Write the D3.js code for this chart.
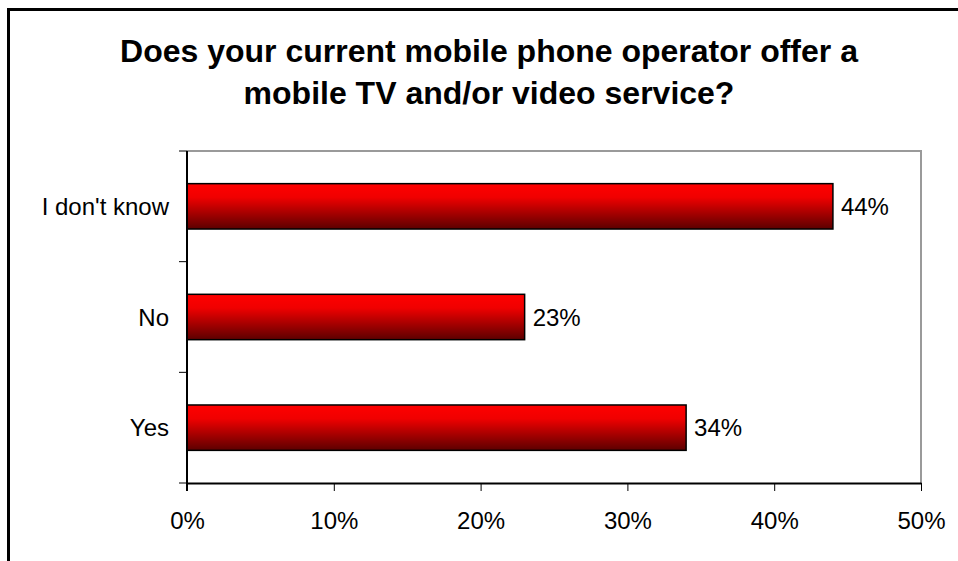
<!DOCTYPE html>
<html>
<head>
<meta charset="utf-8">
<script src="https://cdn.jsdelivr.net/npm/d3@7"></script>
<style>
  html, body { margin: 0; padding: 0; background: #fff; }
  svg { display: block; font-family: "Liberation Sans", Arial, sans-serif; }
</style>
</head>
<body>
<svg id="chart" width="958" height="561"></svg>
<script>
// Survey answers, top to bottom
const categories = ["I don't know", "No", "Yes"];
const values = [0.44, 0.23, 0.34];
const valueLabels = ["44%", "23%", "34%"];
const xTicks = [0, 0.1, 0.2, 0.3, 0.4, 0.5];
const titleLines = [
  "Does your current mobile phone operator offer a",
  "mobile TV and/or video service?"
];

const svg = d3.select("#chart");
const plot = { left: 187, top: 151, right: 921, bottom: 483 };
const labelSize = 24;

// Bar gradient: bright red on top fading to dark red below
const defs = svg.append("defs");
const grad = defs.append("linearGradient")
  .attr("id", "barGrad").attr("x1", 0).attr("y1", 0).attr("x2", 0).attr("y2", 1);
grad.append("stop").attr("offset", "0%").attr("stop-color", "#ff0000");
grad.append("stop").attr("offset", "30%").attr("stop-color", "#f00000");
grad.append("stop").attr("offset", "100%").attr("stop-color", "#5c0000");

// Outer chart frame
svg.append("rect")
  .attr("x", 8.5).attr("y", 9.5)
  .attr("width", 1000).attr("height", 1000)
  .attr("fill", "none").attr("stroke", "#000").attr("stroke-width", 3);

// Title
svg.append("text")
  .attr("text-anchor", "middle")
  .attr("font-weight", "bold")
  .attr("font-size", 32)
  .attr("fill", "#000")
  .selectAll("tspan")
  .data(titleLines)
  .join("tspan")
  .attr("x", 489)
  .attr("y", (d, i) => 62 + i * 42)
  .text(d => d);

const x = d3.scaleLinear().domain([0, 0.5]).range([plot.left, plot.right]);
const y = d3.scaleBand().domain(categories).range([plot.top, plot.bottom]).paddingInner(0.59).paddingOuter(0.295);

// Plot area frame (top and right edges)
svg.append("path")
  .attr("d", `M${plot.left},${plot.top}H${plot.right}V${plot.bottom}`)
  .attr("fill", "none").attr("stroke", "#9a9a9a").attr("stroke-width", 2);

// Bars
svg.append("g").selectAll("rect")
  .data(values)
  .join("rect")
  .attr("x", x(0))
  .attr("y", (d, i) => y(categories[i]))
  .attr("width", d => x(d) - x(0))
  .attr("height", y.bandwidth())
  .attr("fill", "url(#barGrad)")
  .attr("stroke", "#000")
  .attr("stroke-width", 1.5);

// Value labels
svg.append("g").selectAll("text")
  .data(values)
  .join("text")
  .attr("x", d => x(d) + 8)
  .attr("y", (d, i) => y(categories[i]) + y.bandwidth() / 2 + 8.5)
  .attr("font-size", labelSize)
  .attr("fill", "#000")
  .text((d, i) => valueLabels[i]);

// X axis
const xAxis = d3.axisBottom(x)
  .tickValues(xTicks)
  .tickFormat(d3.format(".0%"))
  .tickSizeInner(8).tickSizeOuter(0).tickPadding(20);
const gx = svg.append("g")
  .attr("transform", `translate(0,${plot.bottom})`)
  .call(xAxis);
gx.select(".domain").attr("stroke", "#000").attr("stroke-width", 2);
gx.selectAll(".tick line").attr("stroke", "#000").attr("stroke-width", 1);
gx.selectAll(".tick text")
  .attr("y", 46).attr("dy", null)
  .attr("font-size", labelSize).attr("font-family", "Liberation Sans, Arial, sans-serif")
  .attr("fill", "#000");

// Y axis: category labels, tick marks at band boundaries
const gy = svg.append("g");
gy.append("line")
  .attr("x1", plot.left).attr("x2", plot.left)
  .attr("y1", plot.top).attr("y2", plot.bottom + 8)
  .attr("stroke", "#000").attr("stroke-width", 2);
const step = (plot.bottom - plot.top) / categories.length;
gy.selectAll("line.tick")
  .data(d3.range(categories.length + 1))
  .join("line")
  .attr("class", "tick")
  .attr("x1", plot.left - 8).attr("x2", plot.left)
  .attr("y1", i => plot.top + i * step)
  .attr("y2", i => plot.top + i * step)
  .attr("stroke", "#000").attr("stroke-width", 1);
gy.selectAll("text")
  .data(categories)
  .join("text")
  .attr("x", plot.left - 18)
  .attr("y", d => y(d) + y.bandwidth() / 2 + 8.5)
  .attr("text-anchor", "end")
  .attr("font-size", labelSize)
  .attr("fill", "#000")
  .text(d => d);
</script>
</body>
</html>
